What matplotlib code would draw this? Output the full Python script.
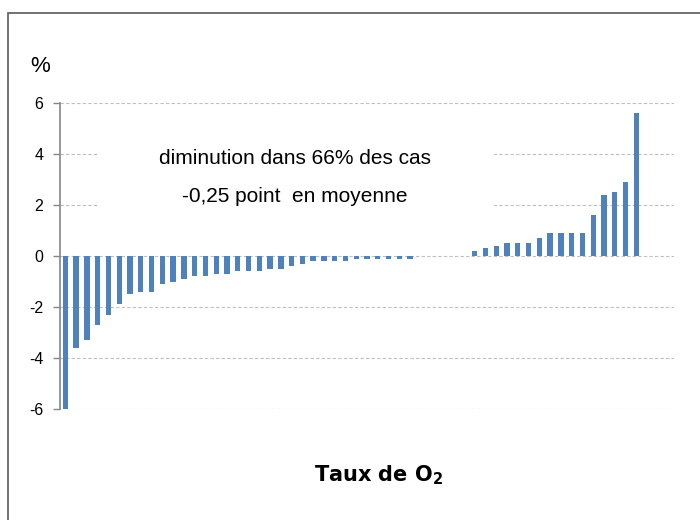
import matplotlib
matplotlib.use("Agg")
import matplotlib.pyplot as plt
from matplotlib.patches import Rectangle

# values per case, sorted (percentage points)
neg_values = [-6.0, -3.6, -3.3, -2.7, -2.3, -1.9, -1.5, -1.4, -1.4, -1.1,
              -1.0, -0.9, -0.8, -0.8, -0.7, -0.7, -0.6, -0.6, -0.6, -0.5,
              -0.5, -0.4, -0.3, -0.2, -0.2, -0.2, -0.2, -0.1, -0.1, -0.1,
              -0.1, -0.1, -0.1]
zero_values = [0.0, 0.0, 0.0, 0.0, 0.0]
pos_values = [0.2, 0.3, 0.4, 0.5, 0.5, 0.5, 0.7, 0.9, 0.9, 0.9,
              0.9, 1.6, 2.4, 2.5, 2.9, 5.6]
values = neg_values + zero_values + pos_values
cases = list(range(len(values)))
n_slots = 57

y_ticks = [-6, -4, -2, 0, 2, 4, 6]
note_lines = ["diminution dans 66% des cas", "-0,25 point  en moyenne"]

BAR = "#4F81BD"
GRID = "#BFBFBF"
AXIS = "#868686"

plt.rcParams["font.family"] = ["Liberation Sans", "DejaVu Sans"]
plt.rcParams["mathtext.fontset"] = "dejavusans"

fig = plt.figure(figsize=(7, 5.2), dpi=100)
ax = fig.add_axes([60 / 700, 1 - 409 / 520, 614 / 700, 306 / 520])

ax.bar(cases, values, width=0.5, color=BAR, zorder=3)

ax.set_xlim(-0.5, n_slots - 0.5)
ax.set_ylim(-6, 6)
ax.set_yticks(y_ticks)
ax.set_yticklabels([str(t) for t in y_ticks])
ax.set_xticks([])
ax.tick_params(axis="y", length=5, width=1, color=AXIS, pad=7, labelsize=11.5,
               labelcolor="black")
ax.grid(axis="y", color=GRID, linestyle=(0, (3, 2)), linewidth=0.8, zorder=0)
ax.set_axisbelow(True)
for side in ["top", "right", "bottom"]:
    ax.spines[side].set_visible(False)
ax.spines["left"].set_color(AXIS)
ax.spines["left"].set_linewidth(1.2)

# white box behind the note, hides the gridlines
ax.add_patch(Rectangle((38 / 614, 184 / 306), 395 / 614, 100 / 306,
                       transform=ax.transAxes, facecolor="white",
                       edgecolor="none", zorder=1))

fig.text(295 / 700, 1 - 159 / 520, note_lines[0], ha="center", va="center",
         fontsize=15)
fig.text(295 / 700, 1 - 196 / 520, note_lines[1], ha="center", va="center",
         fontsize=15)
fig.text(40 / 700, 1 - 67 / 520, "%", ha="center", va="center", fontsize=16)
fig.text(379 / 700, 1 - 475 / 520, r"Taux de O$_\mathbf{2}$", ha="center",
         va="center", fontsize=15, fontweight="bold", family="DejaVu Sans")

# chart frame
fig.patches.append(Rectangle((8 / 700, -0.1), 1.2, 0.1 + (1 - 13 / 520),
                             transform=fig.transFigure, facecolor="none",
                             edgecolor="#595959", linewidth=1.2))

fig.savefig("out.png", dpi=100)
